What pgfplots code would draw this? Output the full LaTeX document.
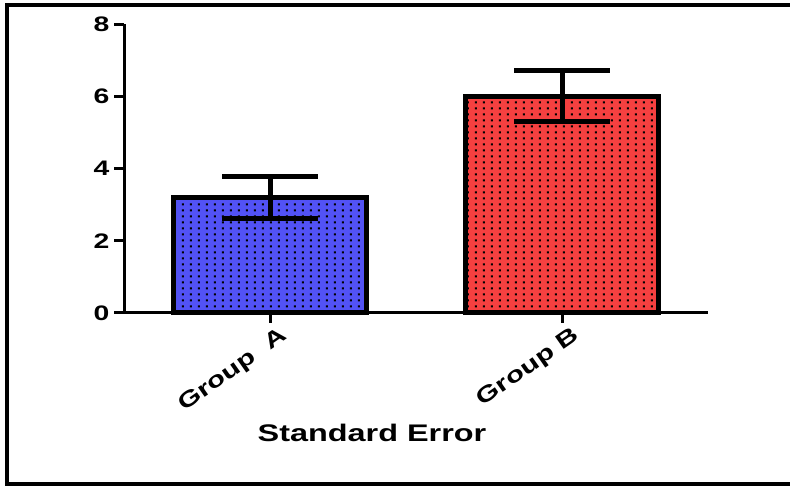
\documentclass[border=0pt]{standalone}
\usepackage{fontspec}
\setmainfont{Liberation Sans}[FakeStretch=1.35]
\usepackage{pgfplots}
\pgfplotsset{compat=1.18}
\usetikzlibrary{patterns.meta}

\definecolor{barblue}{RGB}{82,82,245}
\definecolor{barred}{RGB}{245,64,64}

% stipple texture laid over the bar fills
\tikzdeclarepattern{
  name=bardots,
  type=uncolored,
  bounding box={(0pt,0pt) and (7.5pt,5.7pt)},
  tile size={(7.5pt,5.7pt)},
  code={\fill (2pt,1.8pt) rectangle (4pt,3.8pt);}
}

\begin{document}
\begin{tikzpicture}
\begin{axis}[
  at={(124pt,173pt)}, anchor=south west,
  scale only axis, width=584pt, height=289pt,
  xmin=-0.5, xmax=1.5, ymin=0, ymax=8,
  axis x line*=bottom, axis y line*=left,
  axis line style={line width=3pt, black},
  xtick={0,1}, xticklabels={Group\ \ A, Group B},
  ytick={0,2,4,6,8},
  tick align=outside, major tick length=10pt,
  tick style={line width=3pt, black},
  /pgf/number format/assume math mode=true,
  yticklabel style={font=\fontsize{21}{21}\selectfont\bfseries, xshift=-1pt},
  xticklabel style={font=\fontsize{22}{22}\selectfont\bfseries,
    xshift=18pt, yshift=-9pt, rotate=35, anchor=east},
  clip=false,
]
\addplot[ybar, bar shift=0pt, bar width=193pt, fill=barblue, draw=black, line width=5pt,
  postaction={pattern=bardots, pattern color=black},
  error bars/.cd, y dir=both, y explicit, error mark=|,
  error mark options={line width=5pt, mark size=48pt, black},
  error bar style={line width=5pt, black}]
  coordinates {(0,3.2) +- (0,0.58)};
\addplot[ybar, bar shift=0pt, bar width=193pt, fill=barred, draw=black, line width=5pt,
  postaction={pattern=bardots, pattern color=black},
  error bars/.cd, y dir=both, y explicit, error mark=|,
  error mark options={line width=5pt, mark size=48pt, black},
  error bar style={line width=5pt, black}]
  coordinates {(1,6.0) +- (0,0.7)};
\end{axis}
\node[font=\fontsize{24}{24}\selectfont\bfseries] at (372pt,53pt) {Standard Error};
\draw[line width=4.5pt] (800pt,481pt) -- (7pt,481pt) -- (7pt,2pt) -- (800pt,2pt);
\pgfresetboundingbox
\useasboundingbox (0pt,0pt) rectangle (790pt,486pt);
\end{tikzpicture}
\end{document}
